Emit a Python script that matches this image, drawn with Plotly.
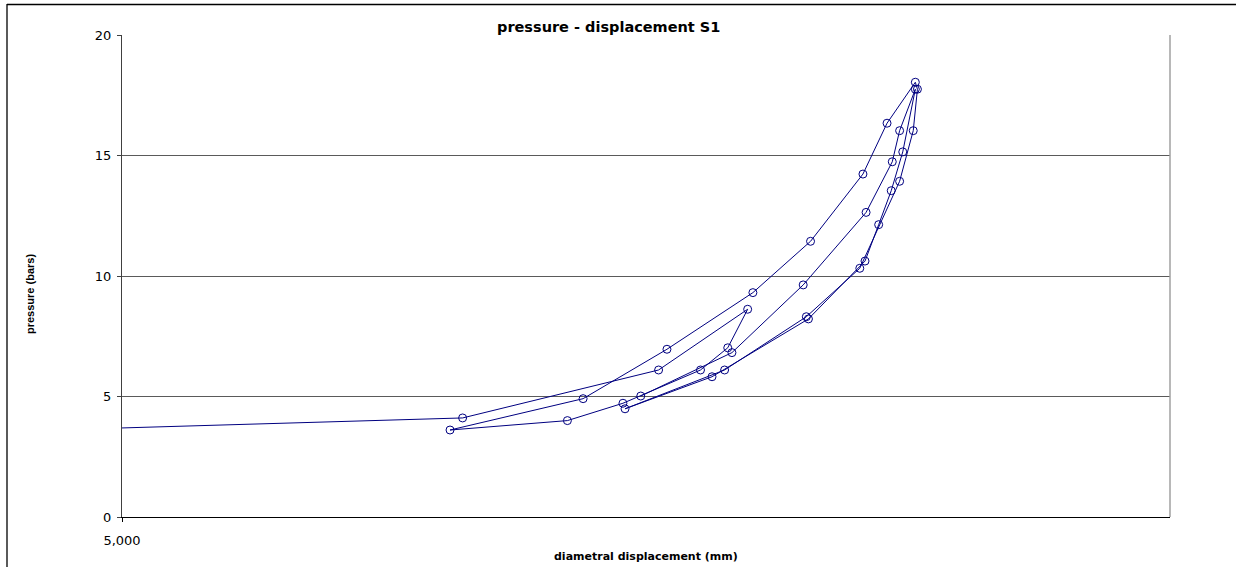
import plotly.graph_objects as go

# Diametral displacement (mm) and pressure (bars), in test order
displacement_mm = [
    4.9941, 5.0325, 5.0512, 5.0597, 5.0578, 5.0552, 5.0478, 5.0425, 5.0313,
    5.0440, 5.0520, 5.0602, 5.0657, 5.0707, 5.0730, 5.0757, 5.0759, 5.0755,
    5.0742, 5.0704, 5.0653, 5.0575, 5.0480, 5.0563, 5.0655, 5.0709, 5.0722,
    5.0734, 5.0745, 5.0757, 5.0742, 5.0735, 5.0710, 5.0650, 5.0582, 5.0495,
]
pressure_bars = [
    3.62, 4.11, 6.10, 8.62, 7.02, 6.10, 4.72, 4.00, 3.61,
    4.91, 6.96, 9.31, 11.44, 14.23, 16.34, 18.04, 17.75, 16.03,
    13.93, 10.32, 8.31, 6.10, 4.49, 5.82, 8.22, 10.62, 12.13,
    13.54, 15.15, 17.75, 16.03, 14.74, 12.64, 9.63, 6.82, 5.02,
]

x_range = [5.0, 5.1]
x_ticks = [5.0]
y_range = [0, 20]
y_ticks = [0, 5, 10, 15, 20]

title_text = "pressure - displacement S1"
x_title = "diametral displacement (mm)"
y_title = "pressure (bars)"

W, H = 1236, 567
L, R, T, B = 122, 66, 35, 50
pw, ph = W - L - R, H - T - B


def px_x(p):
    return (p - L) / pw


def px_y(p):
    return (H - B - p) / ph


WIDE = "DejaVu Sans, Verdana, sans-serif"
NARROW = "Liberation Sans, Arial, sans-serif"
NAVY = "#000080"

fig = go.Figure()
fig.add_trace(go.Scatter(
    x=displacement_mm, y=pressure_bars, mode="lines+markers",
    line=dict(color=NAVY, width=1),
    marker=dict(symbol="circle-open", size=8, color=NAVY, line=dict(color=NAVY, width=1)),
    showlegend=False,
))

fig.update_layout(
    width=W, height=H,
    margin=dict(l=L, r=R, t=T, b=B, pad=0),
    paper_bgcolor="white", plot_bgcolor="white",
    separators=",.",
    font=dict(family=WIDE, size=13, color="black"),
    xaxis=dict(
        range=x_range, tickvals=x_ticks, tickformat=".3f",
        showgrid=False, zeroline=False,
        showline=True, linecolor="black", linewidth=1,
        ticks="outside", ticklen=4, tickcolor="black",
        ticklabelstandoff=7,
        tickfont=dict(family=WIDE, size=13),
    ),
    yaxis=dict(
        range=y_range, tickvals=y_ticks,
        showgrid=True, gridcolor="#5a5a5a", gridwidth=1,
        zeroline=False,
        showline=True, linecolor="#404040", linewidth=1,
        ticks="outside", ticklen=4, tickcolor="#404040",
        ticklabelstandoff=3,
        tickfont=dict(family=WIDE, size=13),
    ),
)

# plot-area right border
fig.add_shape(type="line", xref="paper", yref="paper", x0=1, x1=1, y0=0, y1=1,
              line=dict(color="#a0a0a0", width=1.5))
# chart-area border (left and top edges)
fig.add_shape(type="line", xref="paper", yref="paper",
              x0=px_x(7), x1=px_x(7), y0=px_y(4), y1=px_y(H + 20),
              line=dict(color="black", width=1.3))
fig.add_shape(type="line", xref="paper", yref="paper",
              x0=px_x(7), x1=px_x(W + 20), y0=px_y(4.5), y1=px_y(4.5),
              line=dict(color="black", width=1.3))

fig.add_annotation(text=f"<b>{title_text}</b>", xref="paper", yref="paper",
                   x=px_x(608), y=px_y(27), xanchor="center", yanchor="middle",
                   showarrow=False, font=dict(family=WIDE, size=14.5))
fig.add_annotation(text=f"<b>{x_title}</b>", xref="paper", yref="paper",
                   x=px_x(646), y=px_y(556), xanchor="center", yanchor="middle",
                   showarrow=False, font=dict(family=WIDE, size=11))
fig.add_annotation(text=f"<b>{y_title}</b>", xref="paper", yref="paper",
                   x=px_x(30), y=px_y(294), xanchor="center", yanchor="middle",
                   textangle=-90, showarrow=False, font=dict(family=NARROW, size=11))

fig.write_html("out.html")
